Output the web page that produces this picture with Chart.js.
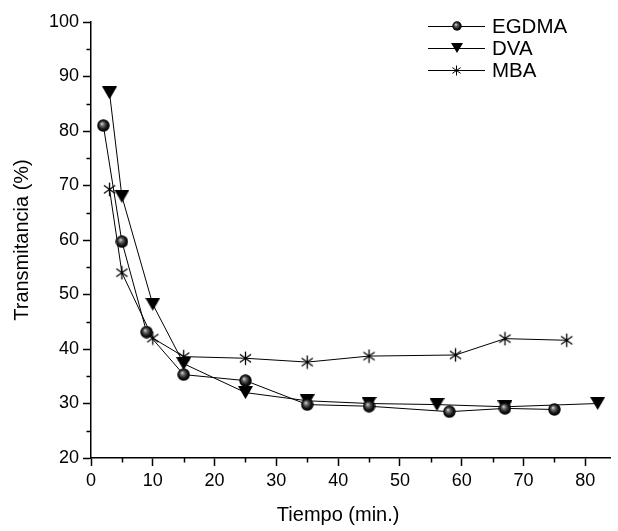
<!DOCTYPE html>
<html><head><meta charset="utf-8">
<script src="https://cdn.jsdelivr.net/npm/chart.js@4.4.0/dist/chart.umd.min.js"></script>
<style>
html,body{margin:0;padding:0;background:#fff;}
#wrap{position:relative;width:618px;height:531px;overflow:hidden;}
canvas#c{position:absolute;left:0;top:0;}
.leg{position:absolute;left:428px;height:22px;display:flex;align-items:center;font-family:"Liberation Sans",Arial,sans-serif;font-size:20.5px;color:#000;white-space:nowrap;}
.leg canvas{margin-right:7px;display:block;}
</style></head><body>
<div id="wrap"><canvas id="c" width="618" height="531"></canvas><div id="legend"></div></div>
<script>
const seriesNames = ['EGDMA', 'DVA', 'MBA'];
const egdmaX = [2, 5, 9, 15, 25, 35, 45, 58, 67, 75];
const egdmaY = [81, 59.7, 43.1, 35.3, 34.2, 29.8, 29.5, 28.5, 29.1, 28.9];
const dvaX = [3, 5, 10, 15, 25, 35, 45, 56, 67, 82];
const dvaY = [87, 68, 48.2, 37.3, 32, 30.5, 30, 29.8, 29.4, 30];
const mbaX = [3, 5, 10, 15, 25, 35, 45, 59, 67, 77];
const mbaY = [69.3, 54, 42, 38.6, 38.3, 37.6, 38.7, 38.9, 41.9, 41.6];
const xTicks = [0, 10, 20, 30, 40, 50, 60, 70, 80];
const xMinor = [5, 15, 25, 35, 45, 55, 65, 75];
const yTicks = [20, 30, 40, 50, 60, 70, 80, 90, 100];
const yMinor = [25, 35, 45, 55, 65, 75, 85, 95];
const xTitle = 'Tiempo (min.)';
const yTitle = 'Transmitancia (%)';

const FONT = '"Liberation Sans", Arial, sans-serif';

function sphere(d) {
  const c = document.createElement('canvas'); c.width = d; c.height = d;
  const g = c.getContext('2d'); const r = d / 2;
  const grad = g.createRadialGradient(r * 0.75, r * 0.7, 0, r, r, r);
  grad.addColorStop(0, '#e6e6e6'); grad.addColorStop(0.3, '#6a6a6a');
  grad.addColorStop(0.7, '#111'); grad.addColorStop(1, '#000');
  g.fillStyle = grad; g.beginPath(); g.arc(r, r, r - 0.3, 0, Math.PI * 2); g.fill();
  return c;
}
function triDown(w, h) {
  const c = document.createElement('canvas'); c.width = w; c.height = h;
  const g = c.getContext('2d'); g.fillStyle = '#000';
  g.beginPath(); g.moveTo(0, 0); g.lineTo(w, 0); g.lineTo(w / 2, h); g.closePath(); g.fill();
  return c;
}
function aster(s, lw) {
  const c = document.createElement('canvas'); c.width = s; c.height = s;
  const g = c.getContext('2d'); g.strokeStyle = '#000'; g.lineWidth = lw;
  const r = s / 2, a = 35 * Math.PI / 180, e = r - lw / 2;
  g.beginPath();
  g.moveTo(r, r - e); g.lineTo(r, r + e);
  g.moveTo(r - e * Math.cos(a), r - e * Math.sin(a)); g.lineTo(r + e * Math.cos(a), r + e * Math.sin(a));
  g.moveTo(r - e * Math.cos(a), r + e * Math.sin(a)); g.lineTo(r + e * Math.cos(a), r - e * Math.sin(a));
  g.stroke();
  return c;
}

const pts = (xs, ys) => xs.map((x, i) => ({x, y: ys[i]}));
const markers = [sphere(13), triDown(15, 13), aster(15, 1.3)];

const axisExtras = {
  id: 'axisExtras',
  afterLayout(chart) {
    const xs = chart.scales.x;
    if (!xs._titleWrapped) {
      const orig = xs.drawTitle;
      xs.drawTitle = function () {
        const r = this.right;
        this.right = this.getPixelForValue(xTicks[xTicks.length - 1]);
        orig.call(this);
        this.right = r;
      };
      xs._titleWrapped = true;
    }
  },
  afterDraw(chart) {
    const ctx = chart.ctx, xs = chart.scales.x, ys = chart.scales.y;
    ctx.save(); ctx.strokeStyle = '#000'; ctx.lineWidth = 1.5; ctx.beginPath();
    xMinor.forEach(v => { const p = Math.round(xs.getPixelForValue(v)) + 0.5; ctx.moveTo(p, ys.bottom); ctx.lineTo(p, ys.bottom + 4.5); });
    yMinor.forEach(v => { const p = Math.round(ys.getPixelForValue(v)) + 0.5; ctx.moveTo(xs.left, p); ctx.lineTo(xs.left - 4.5, p); });
    ctx.stroke(); ctx.restore();
  }
};

const ds = [[egdmaX, egdmaY], [dvaX, dvaY], [mbaX, mbaY]].map((d, i) => ({
  label: seriesNames[i], data: pts(d[0], d[1]),
  borderColor: '#000', borderWidth: 1, backgroundColor: '#000',
  pointStyle: markers[i], pointRadius: 7, pointHoverRadius: 7,
  tension: 0, fill: false, clip: false
}));

new Chart(document.getElementById('c'), {
  type: 'line',
  data: { datasets: ds },
  options: {
    responsive: false, animation: false, devicePixelRatio: 1,
    layout: { padding: { top: 22, left: 0, right: 0, bottom: 0 } },
    plugins: { legend: { display: false }, tooltip: { enabled: false } },
    scales: {
      x: {
        type: 'linear', min: 0, max: 84,
        afterBuildTicks: s => { s.ticks = xTicks.map(v => ({value: v})); },
        afterFit: s => { s.height = 73; },
        grid: { drawOnChartArea: false, drawTicks: true, tickLength: 8, tickWidth: 1.5, tickColor: '#000' },
        border: { display: true, color: '#000', width: 1.5 },
        ticks: { color: '#000', font: { family: FONT, size: 18 }, padding: 4, maxRotation: 0 },
        title: { display: true, text: xTitle, color: '#000', font: { family: FONT, size: 20 }, padding: { top: 0, bottom: 4 } }
      },
      y: {
        type: 'linear', min: 20, max: 100,
        afterBuildTicks: s => { s.ticks = yTicks.map(v => ({value: v})); },
        afterFit: s => { s.width = 91; },
        grid: { drawOnChartArea: false, drawTicks: true, tickLength: 8, tickWidth: 1.5, tickColor: '#000' },
        border: { display: true, color: '#000', width: 1.5 },
        ticks: { color: '#000', font: { family: FONT, size: 18 }, padding: 4 },
        title: { display: true, text: yTitle, color: '#000', font: { family: FONT, size: 20 }, padding: { top: 10, bottom: 0 } }
      }
    }
  },
  plugins: [axisExtras]
});

// legend
const legMarkers = [sphere(10), triDown(12, 10), aster(11, 1)];
const legTop = [15, 37, 59];
const legend = document.getElementById('legend');
seriesNames.forEach((name, i) => {
  const row = document.createElement('div'); row.className = 'leg'; row.style.top = legTop[i] + 'px';
  const c = document.createElement('canvas'); c.width = 57; c.height = 22;
  const g = c.getContext('2d');
  g.strokeStyle = '#000'; g.lineWidth = 1; g.beginPath(); g.moveTo(0, 11.5); g.lineTo(57, 11.5); g.stroke();
  const m = legMarkers[i];
  g.drawImage(m, Math.round(28.5 - m.width / 2), Math.round(11 - m.height / 2));
  const t = document.createElement('span'); t.textContent = name;
  row.appendChild(c); row.appendChild(t); legend.appendChild(row);
});
</script>
</body></html>
